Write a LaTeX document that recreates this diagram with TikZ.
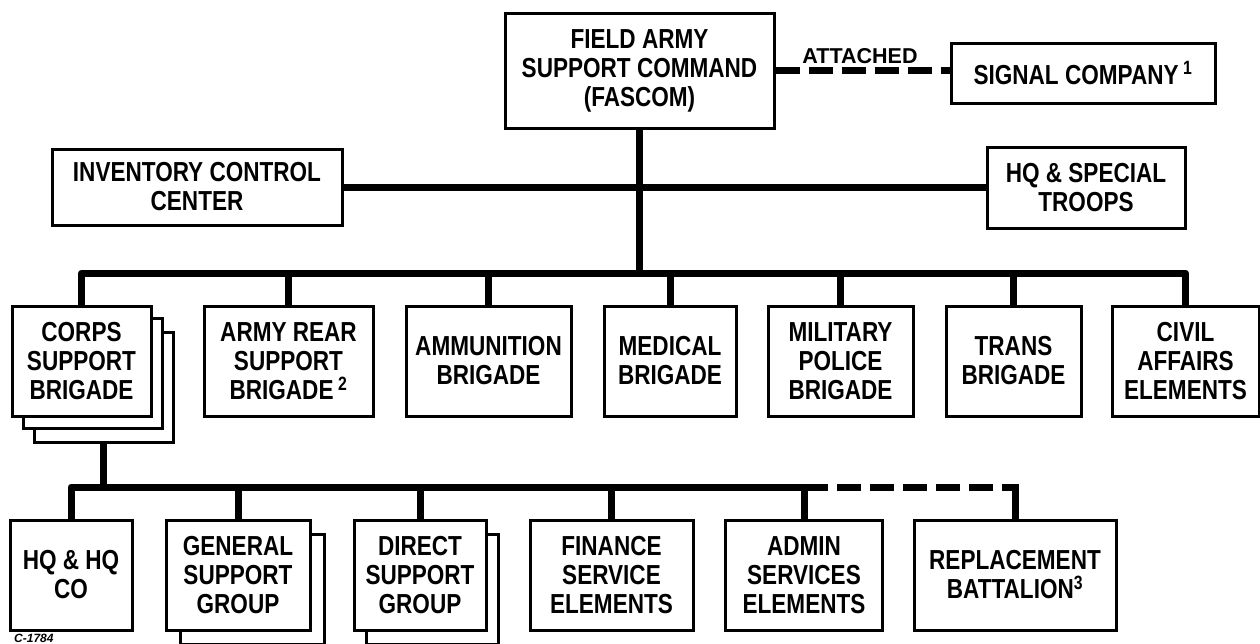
\documentclass[tikz,border=0pt]{standalone}
\usepackage{fontspec}
\newfontfamily\cf{Liberation Sans}[FakeStretch=0.82]
\newfontfamily\cw{Liberation Sans}
\begin{document}
\begin{tikzpicture}[x=1pt,y=-1pt,
  box/.style={draw, line width=3pt, fill=white, align=center, inner sep=0pt,
    font=\cf\bfseries\fontsize{27.5}{29}\selectfont},
  shadowbox/.style={draw, line width=3pt, fill=white, inner sep=0pt},
  conn/.style={line width=7pt, line join=round},
  dconn/.style={line width=7pt, dash pattern=on 24pt off 9pt}]
\useasboundingbox (0,0) rectangle (1260,643);
\fill[white] (0,0) rectangle (1260,643);

% top level
\node[box, minimum width=269pt, minimum height=115pt] (fascom) at (639.5,70.5)
  {FIELD ARMY\\SUPPORT COMMAND\\(FASCOM)};
\node[box, minimum width=264pt, minimum height=60pt] (signal) at (1083,73)
  {SIGNAL COMPANY\,\textsuperscript{1}};
\node[font=\cw\bfseries\fontsize{21.5}{22}\selectfont, inner sep=0pt] (attached) at (860,56) {ATTACHED};
\node[box, minimum width=290pt, minimum height=76pt] (inventory) at (197,187)
  {INVENTORY CONTROL\\CENTER};
\node[box, minimum width=198pt, minimum height=81pt] (hqspecial) at (1086,187.5)
  {HQ \& SPECIAL\\TROOPS};

% row 2
\node[shadowbox, minimum width=139pt, minimum height=110pt] (corpsB) at (103.5,387) {};
\node[shadowbox, minimum width=139pt, minimum height=110pt] (corpsA) at (92.5,373) {};
\node[box, minimum width=139pt, minimum height=110pt] (corps) at (81.5,361) {CORPS\\SUPPORT\\BRIGADE};
\node[box, minimum width=169pt, minimum height=110pt] (army) at (288.5,361) {ARMY REAR\\SUPPORT\\BRIGADE\,\textsuperscript{2}};
\node[box, minimum width=165pt, minimum height=110pt] (ammo) at (488.5,361) {AMMUNITION\\BRIGADE};
\node[box, minimum width=132pt, minimum height=110pt] (medical) at (670,361) {MEDICAL\\BRIGADE};
\node[box, minimum width=145pt, minimum height=110pt] (mp) at (840.5,361) {MILITARY\\POLICE\\BRIGADE};
\node[box, minimum width=135pt, minimum height=110pt] (trans) at (1013.5,361) {TRANS\\BRIGADE};
\node[box, minimum width=147pt, minimum height=110pt] (civil) at (1185.5,361) {CIVIL\\AFFAIRS\\ELEMENTS};

% row 3
\node[box, minimum width=122pt, minimum height=110pt] (hqco) at (71,575) {HQ \& HQ\\CO};
\node[shadowbox, minimum width=144pt, minimum height=110pt] (gsgB) at (252,589) {};
\node[box, minimum width=144pt, minimum height=110pt] (gsg) at (238,575) {GENERAL\\SUPPORT\\GROUP};
\node[shadowbox, minimum width=132pt, minimum height=110pt] (dsgB) at (432,589) {};
\node[box, minimum width=132pt, minimum height=110pt] (dsg) at (420,575) {DIRECT\\SUPPORT\\GROUP};
\node[box, minimum width=163pt, minimum height=110pt] (finance) at (611.5,575) {FINANCE\\SERVICE\\ELEMENTS};
\node[box, minimum width=157pt, minimum height=110pt] (admin) at (804,575) {ADMIN\\SERVICES\\ELEMENTS};
\node[box, minimum width=202pt, minimum height=110pt] (repl) at (1015,575) {REPLACEMENT\\BATTALION\textsuperscript{3}};

\node[font=\cw\bfseries\itshape\fontsize{12}{12}\selectfont, anchor=north west, inner sep=0pt] (code) at (14,633.5) {C-1784};

% bus coordinates
\coordinate (busA) at (641,273);
\coordinate (busB) at (103.5,487);

% connectors
\draw[dconn] (fascom.east) -- (fascom.east -| signal.west);
\draw[conn] (inventory.east) -- (inventory.east -| hqspecial.west);
\draw[conn] (fascom.south) -- (fascom.south |- busA);
\draw[conn] (corps.north) -- (corps.north |- busA) -- (civil.north |- busA) -- (civil.north);
\foreach \n in {army,ammo,medical,mp,trans}
  \draw[conn] (\n.north) -- (\n.north |- busA);

\draw[conn] (corpsB.south) -- (busB);
\draw[conn] (hqco.north) -- (hqco.north |- busB) -- (admin.north |- busB) -- (admin.north);
\foreach \n in {gsg,dsg,finance}
  \draw[conn] (\n.north) -- (\n.north |- busB);
\draw[dconn] (admin.north |- busB) -- (repl.north |- busB);
\draw[conn] (repl.north) -- ([yshift=3.5pt]repl.north |- busB);
\end{tikzpicture}
\end{document}
